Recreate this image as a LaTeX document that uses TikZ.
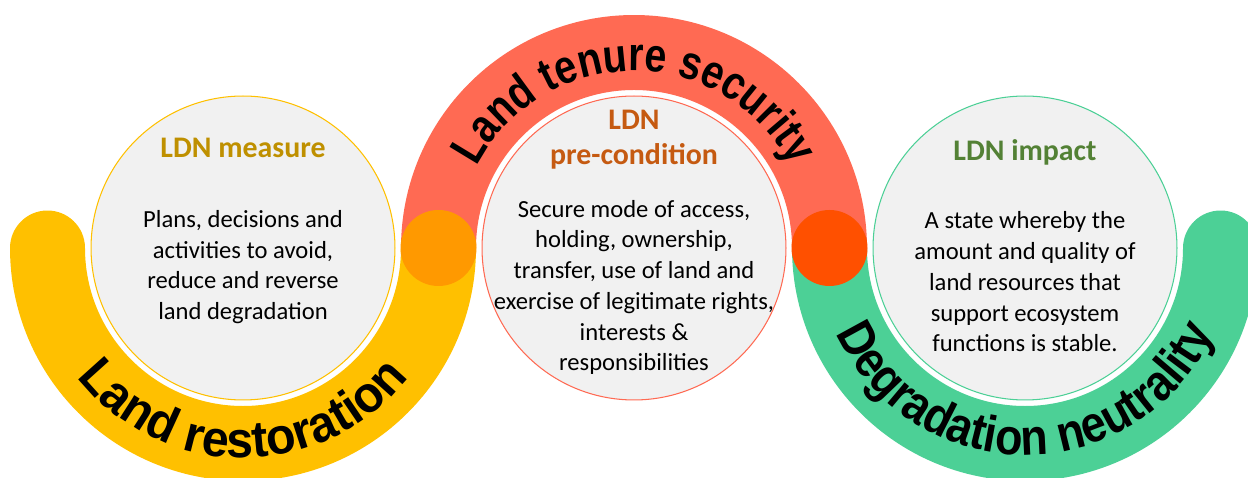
\documentclass[tikz,border=0pt]{standalone}
\usepackage{fontspec}
\setmainfont{Carlito}
% bold sans for the curved titles, each squeezed to fit its arc
\newfontfamily\arcfontL[FakeStretch=0.95]{Liberation Sans}
\newfontfamily\arcfontM[FakeStretch=0.83]{Liberation Sans}
\newfontfamily\arcfontR[FakeStretch=0.88]{Liberation Sans}
\usetikzlibrary{calc,decorations.text}

\definecolor{bandyellow}{HTML}{FFC000}
\definecolor{bandred}{HTML}{FF6A53}
\definecolor{bandgreen}{HTML}{4CD096}
\definecolor{joinorange}{HTML}{FF9900}
\definecolor{joinred}{HTML}{FF5000}
\definecolor{ringgrey}{HTML}{F1F1F1}
\definecolor{headgold}{HTML}{BF9000}
\definecolor{headbrown}{HTML}{C55A11}
\definecolor{headgreen}{HTML}{538135}

\begin{document}
\begin{tikzpicture}[x=0.02cm, y=0.02cm,
  band/.style={line width=1.5cm},
  ring/.style={circle, line width=0.6pt, fill=ringgrey, minimum size=6.08cm, inner sep=0pt},
  heading/.style={font=\fontsize{17}{20}\selectfont\bfseries, align=center},
  body/.style={font=\fontsize{14}{17.5}\selectfont, align=center}]

  \clip (0,0) rectangle (1248,477);

  % centres of the three rings and the two joints
  \coordinate (Lc) at (243,229);
  \coordinate (Mc) at (634,229);
  \coordinate (Rc) at (1025,229);
  \coordinate (J1) at (438.5,229);
  \coordinate (J2) at (829.5,229);

  % the wavy band
  \draw[band, bandred] ($(Mc)+(-195.5,0)$) arc[start angle=180, end angle=0, radius=195.5];
  \draw[band, bandyellow, line cap=round] ($(Lc)+(-195.5,0)$) arc[start angle=180, end angle=360, radius=195.5];
  \draw[band, bandgreen, line cap=round] ($(Rc)+(-195.5,0)$) arc[start angle=180, end angle=360, radius=195.5];

  % joints
  \fill[joinorange] (J1) circle (38);
  \fill[joinred] (J2) circle (38);

  % rings
  \node[ring, draw=bandyellow] (measure) at (Lc) {};
  \node[ring, draw=bandred] (precond) at (Mc) {};
  \node[ring, draw=bandgreen] (impact) at (Rc) {};

  % curved titles
  \path[decorate, decoration={text along path, text align=center,
    text={|\arcfontL\bfseries\fontsize{29}{29}\selectfont|Land restoration}}]
    ($(Lc)+(-210,0)$) arc[start angle=180, end angle=360, radius=210];
  \path[decorate, decoration={text along path, text align=center,
    text={|\arcfontM\bfseries\fontsize{27}{27}\selectfont|Land tenure security}}]
    ($(Mc)+(-177,0)$) arc[start angle=180, end angle=0, radius=177];
  \path[decorate, decoration={text along path, text align=center,
    text={|\arcfontR\bfseries\fontsize{29}{29}\selectfont|Degradation neutrality}}]
    ($(Rc)+(-207,0)$) arc[start angle=180, end angle=360, radius=207];

  % ring texts
  \node[heading, headgold] (measureT) at ($(Lc)+(0,100)$) {LDN measure};
  \node[body] (measureB) at ($(Lc)+(0,-19)$) {Plans, decisions and\\activities to avoid,\\reduce and reverse\\land degradation};

  \node[heading, headbrown] (precondT) at ($(Mc)+(0,108.5)$) {LDN\\pre-condition};
  \node[body] (precondB) at ($(Mc)+(0,-39.5)$) {Secure mode of access,\\holding, ownership,\\transfer, use of land and\\exercise of legitimate rights,\\interests \&\\responsibilities};

  \node[heading, headgreen] (impactT) at ($(Rc)+(0,96)$) {LDN impact};
  \node[body] (impactB) at ($(Rc)+(0,-34)$) {A state whereby the\\amount and quality of\\land resources that\\support ecosystem\\functions is stable.};

\end{tikzpicture}
\end{document}
